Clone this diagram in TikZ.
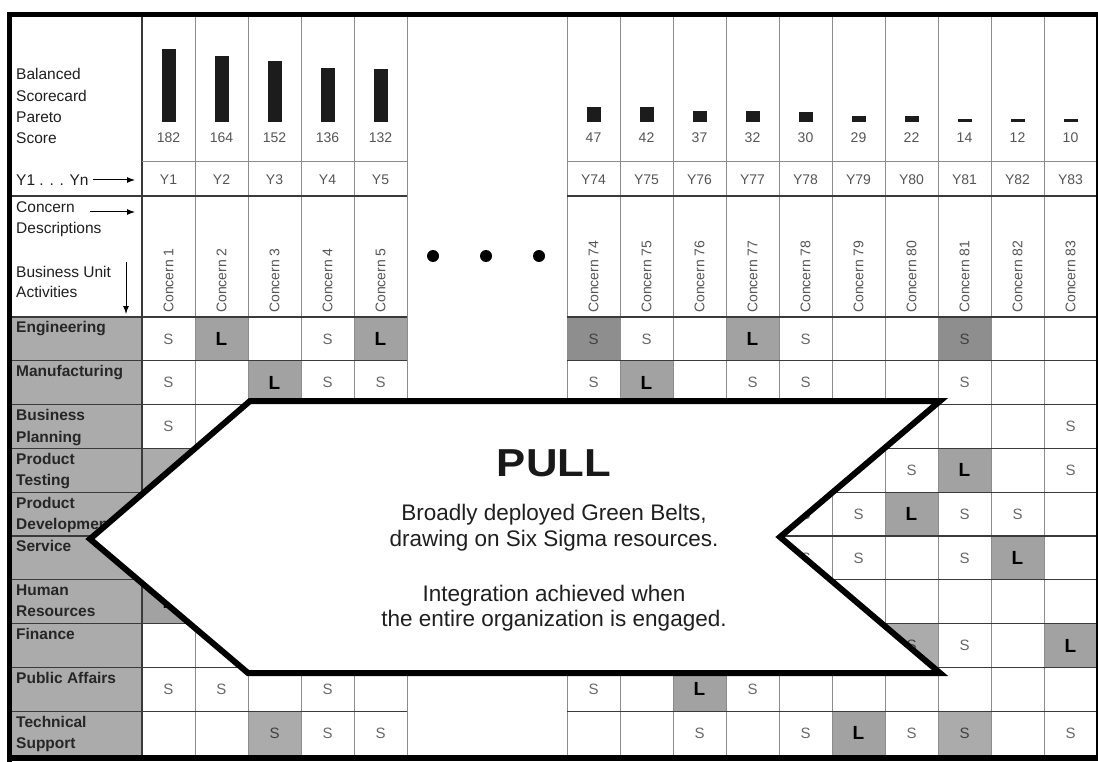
\documentclass[tikz,border=0pt]{standalone}
\usepackage{fontspec}
\setmainfont{Liberation Sans}
\usetikzlibrary{arrows.meta}
\definecolor{gridd}{HTML}{3A3A3A}
\definecolor{gridl}{HTML}{8C8C8C}
\definecolor{cellg}{HTML}{ABABAB}
\definecolor{cellgL}{HTML}{A2A2A2}
\definecolor{cellgD}{HTML}{8E8E8E}
\definecolor{txtg}{HTML}{555555}
\definecolor{txts}{HTML}{686868}
\definecolor{barc}{HTML}{1C1C1C}
\begin{document}
\begin{tikzpicture}[x=1pt,y=-1pt,
  hdr/.style={font=\fontsize{15.5}{21}\selectfont, text=black!88, anchor=base west, inner sep=0},
  num/.style={font=\fontsize{14}{16}\selectfont, text=txtg, inner sep=0},
  rowlab/.style={font=\bfseries\fontsize{15.5}{21.5}\selectfont, text=black!85, anchor=north west, align=left, inner sep=0},
  stxt/.style={font=\fontsize{15}{17}\selectfont, text=txts, inner sep=0},
  sdark/.style={font=\fontsize{15}{17}\selectfont, text=black!75, inner sep=0},
  ltxt/.style={font=\bfseries\fontsize{19}{21}\selectfont, text=black, inner sep=0},
  conc/.style={font=\fontsize{14}{16}\selectfont, text=txtg, rotate=90, anchor=west, inner sep=0},
  hld/.style={draw=gridd, line width=1.2},
  hll/.style={draw=gridl, line width=0.6},
  vl/.style={draw=gridl, line width=0.8},
  lblarrow/.style={draw=black, line width=1.0, -{Latex[length=8pt,width=6pt]}},
  pulltxt/.style={font=\fontsize{22.5}{26}\selectfont, text=black!88, anchor=base, inner sep=0},
  dotn/.style={circle, fill=black, inner sep=0, minimum size=12}
]
\useasboundingbox (0,0) rectangle (1098,762);
\clip (0,0) rectangle (1098,762);
\fill[white] (0,0) rectangle (1098,762);

% label column shading
\fill[cellg] (12,317) rectangle (142,755);

% shaded cells
\foreach \row/\col/\fc in {1/2/cellgL, 1/5/cellgL, 1/9/cellgL, 2/3/cellgL, 2/7/cellgL, 4/13/cellgL, 5/12/cellgL, 6/14/cellgL, 7/1/cellgL, 8/15/cellgL, 9/8/cellgL, 10/11/cellgL, 1/6/cellgD, 1/13/cellgD, 8/12/cellg, 10/3/cellg, 10/13/cellg, 4/1/cellg} {
  \pgfmathsetmacro\xa{\col<6 ? 142+53*(\col-1) : 567+53*(\col-6)}
  \pgfmathsetmacro\ya{317+43.8*(\row-1)}
  \fill[\fc] (\xa,\ya) rectangle (\xa+53,\ya+43.8);
}

% grid: vertical lines
\foreach \xx in {195,248,301,354,407,567,620,673,726,779,832,885,938,991,1044} {
  \draw[vl] (\xx,14) -- (\xx,758);
}
\draw[hld] (142,14) -- (142,758);
% grid: horizontal lines
\draw[hll] (142,161) -- (407,161);
\draw[hll] (567,161) -- (1098,161);
\foreach \yy in {196,317,360.8,404.6,448.4,492.2,536,579.8,623.6,667.4,711.2} {
  \draw[hld] (12,\yy) -- (407,\yy);
  \draw[hld] (567,\yy) -- (1098,\yy);
}

% header, left column
\node[hdr] (h1) at (16,80) {Balanced};
\node[hdr] (h2) at (16,101.5) {Scorecard};
\node[hdr] (h3) at (16,122.5) {Pareto};
\node[hdr] (h4) at (16,143.5) {Score};
\node[hdr] (h5) at (16,185.5) {Y1 . . . Yn};
\coordinate (a1s) at (93,180);
\coordinate (a1e) at (135,180);
\draw[lblarrow] (a1s) -- (a1e);
\node[hdr] (h6) at (16,212.5) {Concern};
\coordinate (a2s) at (90,212);
\coordinate (a2e) at (135,212);
\draw[lblarrow] (a2s) -- (a2e);
\node[hdr] (h7) at (16,233.5) {Descriptions};
\node[hdr] (h8) at (16,277.5) {Business Unit};
\node[hdr] (h9) at (16,297.5) {Activities};
\coordinate (a3s) at (126,262);
\coordinate (a3e) at (126,314);
\draw[lblarrow] (a3s) -- (a3e);

% bars, scores, Y labels, concern labels
\foreach \col/\val/\hh in {1/182/72.8, 2/164/65.6, 3/152/60.8, 4/136/54.4, 5/132/52.8, 6/47/15, 7/42/15, 8/37/11, 9/32/11, 10/30/10, 11/29/6, 12/22/6, 13/14/3, 14/12/3, 15/10/3} {
  \pgfmathsetmacro\cx{\col<6 ? 168.5+53*(\col-1) : 593.5+53*(\col-6)}
  \pgfmathtruncatemacro\nn{\col<6 ? \col : \col+68}
  \fill[barc] (\cx-7,122) rectangle (\cx+7,122-\hh);
  \node[num] (v\col) at (\cx,138) {\val};
  \node[num] (y\col) at (\cx,180) {Y\nn};
  \node[conc] (k\col) at (\cx,313) {Concern \nn};
}

% ellipsis dots
\node[dotn] (dot1) at (433,256) {};
\node[dotn] (dot2) at (486,256) {};
\node[dotn] (dot3) at (539,256) {};

% row labels
\foreach \row/\lab in {1/Engineering, 2/Manufacturing, 3/{Business\\Planning}, 4/{Product\\Testing}, 5/{Product\\Development}, 6/Service, 7/{Human\\Resources}, 8/Finance, 9/Public Affairs, 10/{Technical\\Support}} {
  \pgfmathsetmacro\ya{317+43.8*(\row-1)+4.5}
  \node[rowlab] (r\row) at (16,\ya) {\lab};
}

% S entries
\foreach \row/\col in {1/1,1/4,1/7,1/10, 2/1,2/4,2/5,2/6,2/9,2/10,2/13, 3/1,3/15, 4/12,4/15, 5/10,5/11,5/13,5/14, 6/10,6/11,6/13, 8/13, 9/1,9/2,9/4,9/6,9/9, 10/4,10/5,10/8,10/10,10/12,10/15} {
  \pgfmathsetmacro\xc{\col<6 ? 168.5+53*(\col-1) : 593.5+53*(\col-6)}
  \pgfmathsetmacro\yc{338.9+43.8*(\row-1)}
  \node[stxt] (s-\row-\col) at (\xc,\yc) {S};
}
\foreach \row/\col in {1/6, 1/13, 8/12, 10/3, 10/13} {
  \pgfmathsetmacro\xc{\col<6 ? 168.5+53*(\col-1) : 593.5+53*(\col-6)}
  \pgfmathsetmacro\yc{338.9+43.8*(\row-1)}
  \node[sdark] (d-\row-\col) at (\xc,\yc) {S};
}
% L entries
\foreach \row/\col in {1/2, 1/5, 1/9, 2/3, 2/7, 4/13, 5/12, 6/14, 7/1, 8/15, 9/8, 10/11} {
  \pgfmathsetmacro\xc{\col<6 ? 168.5+53*(\col-1) : 593.5+53*(\col-6)}
  \pgfmathsetmacro\yc{338.9+43.8*(\row-1)}
  \node[ltxt] (l-\row-\col) at (\xc,\yc) {L};
}

% PULL arrow
\draw[line width=6, fill=white, line join=miter, miter limit=4]
  (250,401) -- (940,401) -- (780,537) -- (940,673) -- (248,673) -- (90,539) -- cycle;
\node[anchor=base, inner sep=0, font=\bfseries\fontsize{39}{44}\selectfont, text=black!90] (pull) at (554,476) {\scalebox{1.12}[1]{PULL}};
\node[pulltxt] (t1) at (554,520) {Broadly deployed Green Belts,};
\node[pulltxt] (t2) at (554,546) {drawing on Six Sigma resources.};
\node[pulltxt] (t3) at (554,601) {Integration achieved when};
\node[pulltxt] (t4) at (554,626) {the entire organization is engaged.};

% frame
\draw[line width=5] (9.5,762) -- (9.5,14.5) -- (1100,14.5);
\draw[line width=6] (7,758) -- (1100,758);
\draw[line width=2.5] (1097,14) -- (1097,758);
\end{tikzpicture}
\end{document}
